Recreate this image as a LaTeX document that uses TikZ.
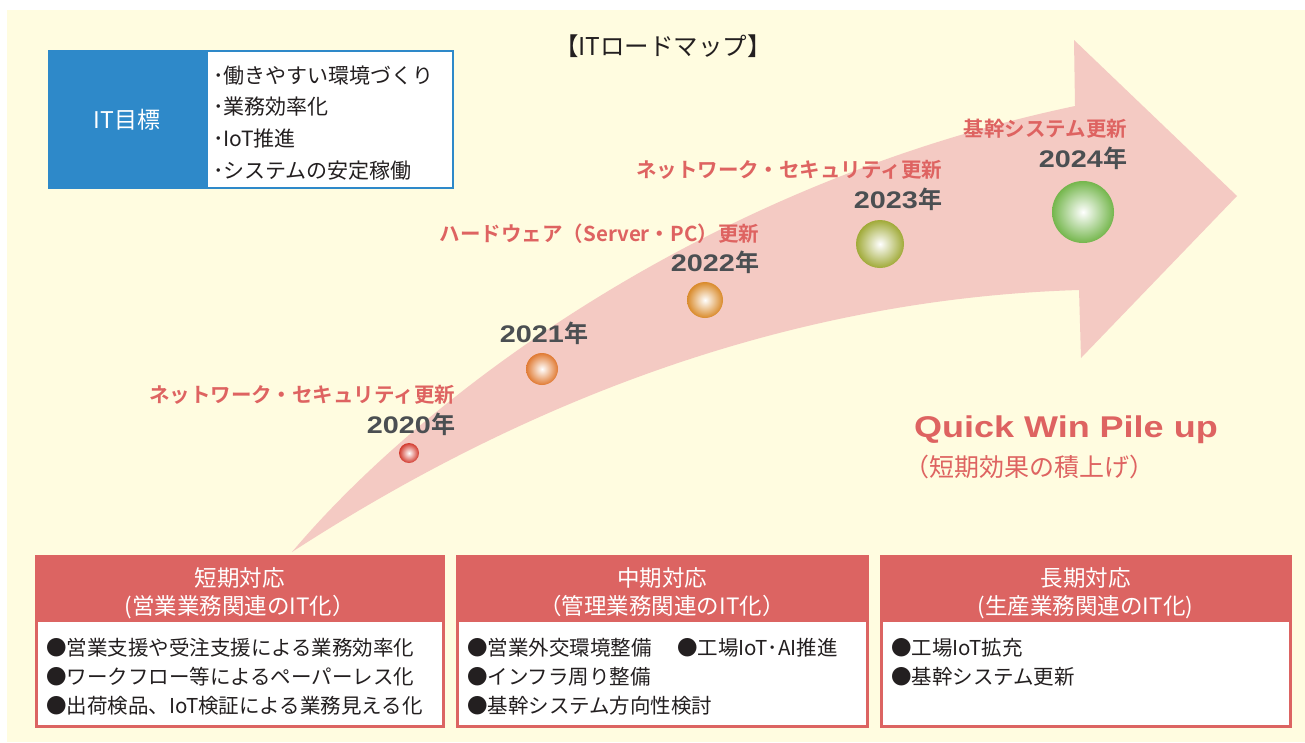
\documentclass[tikz,border=0pt]{standalone}
\usepackage{fontspec}
\setmainfont{Noto Sans CJK JP}[BoldFont={Noto Sans CJK JP Bold}]
\newfontfamily\latb{Liberation Sans}[FakeStretch=1.2]
\newcommand\myfs[1]{\fontsize{#1}{#1}\selectfont}
\definecolor{bgcream}{HTML}{FFFCE0}
\definecolor{arrowpink}{HTML}{F4CAC3}
\definecolor{redtxt}{HTML}{DE6361}
\definecolor{boxred}{HTML}{DC6462}
\definecolor{itblue}{HTML}{2E89C9}
\definecolor{yeartxt}{HTML}{4B4F52}
\definecolor{itemtxt}{HTML}{231F20}
\definecolor{sred}{HTML}{D23A2E}
\definecolor{sorange}{HTML}{E07A32}
\definecolor{sorange2}{HTML}{D98A2A}
\definecolor{solive}{HTML}{A0AA38}
\definecolor{sgreen}{HTML}{74B64C}
\begin{document}
\begin{tikzpicture}[x=1pt,y=-1pt,
  every node/.style={inner sep=0pt, outer sep=0pt},
  goalitem/.style={anchor=base west, font=\myfs{21}, text=itemtxt},
  redlab/.style={anchor=base east, font=\myfs{20.5}\bfseries, text=redtxt},
  yearlab/.style={anchor=base east, font=\myfs{24}\bfseries, text=yeartxt},
  hdr/.style={anchor=base, font=\myfs{22.5}, text=white},
  bitem/.style={anchor=base west, font=\myfs{20.5}, text=itemtxt},
  ball/.style={circle, shading=radial, inner color=white}]
\useasboundingbox (0,0) rectangle (1305,742);
% background
\fill[bgcream] (7,10) rectangle (1305,742);
% big arrow
\fill[arrowpink] (292,552) .. controls (420,400) and (700,185) .. (1075,106)
  -- (1074,40) -- (1237,196) -- (1081,358) -- (1079,290)
  .. controls (750,300) and (480,430) .. (292,552) -- cycle;
% title
\node (title) [anchor=base, font=\myfs{24.5}, text=itemtxt] at (663,55) {【ITロードマップ】};
% IT goal box
\fill[itblue] (48,50) rectangle (207,189);
\draw[itblue, line width=2pt, fill=white] (207,51) rectangle (453,188);
\node (goal) [font=\myfs{23}, text=white] at (127,120) {IT目標};
\node (g1) [goalitem] at (213,83) {･働きやすい環境づくり};
\node (g2) [goalitem] at (213,114) {･業務効率化};
\node (g3) [goalitem] at (213,146) {･IoT推進};
\node (g4) [goalitem] at (213,178) {･システムの安定稼働};
% milestones
\node (l20) [redlab] at (455,402) {ネットワーク・セキュリティ更新};
\node (y20) [yearlab] at (455,433) {{\latb\bfseries 2020}年};
\node (s20) [ball, minimum size=20pt, outer color=sred] at (409,453) {};
\node (y21) [yearlab] at (588,342) {{\latb\bfseries 2021}年};
\node (s21) [ball, minimum size=32pt, outer color=sorange] at (542,369) {};
\node (l22) [redlab] at (759,241) {ハードウェア（Server・PC）更新};
\node (y22) [yearlab] at (759,271) {{\latb\bfseries 2022}年};
\node (s22) [ball, minimum size=36pt, outer color=sorange2] at (705,300) {};
\node (l23) [redlab] at (942,177) {ネットワーク・セキュリティ更新};
\node (y23) [yearlab] at (942,208) {{\latb\bfseries 2023}年};
\node (s23) [ball, minimum size=48pt, outer color=solive] at (880,244) {};
\node (l24) [redlab] at (1127,136) {基幹システム更新};
\node (y24) [yearlab] at (1127,167) {{\latb\bfseries 2024}年};
\node (s24) [ball, minimum size=62pt, outer color=sgreen] at (1083,212) {};
% quick win
\node (qw) [anchor=base west, font=\myfs{30}\latb\bfseries, text=redtxt] at (914,437) {Quick Win Pile up};
\node (qwj) [anchor=base west, font=\myfs{25}, text=redtxt] at (904,476) {（短期効果の積上げ）};
% bottom boxes
\draw[boxred, line width=3pt, fill=white] (36,556) rectangle (443,726);
\fill[boxred] (36,556) rectangle (443,622);
\draw[boxred, line width=3pt, fill=white] (457,556) rectangle (867,726);
\fill[boxred] (457,556) rectangle (867,622);
\draw[boxred, line width=3pt, fill=white] (881,556) rectangle (1290,726);
\fill[boxred] (881,556) rectangle (1290,622);
% box 1
\node (h1a) [hdr] at (239.5,586) {短期対応};
\node (h1b) [hdr] at (239.5,614) {(営業業務関連のIT化）};
\node (b1a) [bitem] at (46,655) {●営業支援や受注支援による業務効率化};
\node (b1b) [bitem] at (46,684) {●ワークフロー等によるペーパーレス化};
\node (b1c) [bitem] at (46,713) {●出荷検品、IoT検証による業務見える化};
% box 2
\node (h2a) [hdr] at (662,586) {中期対応};
\node (h2b) [hdr] at (662,614) {（管理業務関連のIT化）};
\node (b2a) [bitem] at (467,655) {●営業外交環境整備};
\node (b2b) [bitem] at (677,655) {●工場IoT･AI推進};
\node (b2c) [bitem] at (467,684) {●インフラ周り整備};
\node (b2d) [bitem] at (467,713) {●基幹システム方向性検討};
% box 3
\node (h3a) [hdr] at (1085.5,586) {長期対応};
\node (h3b) [hdr] at (1085.5,614) {(生産業務関連のIT化)};
\node (b3a) [bitem] at (891,655) {●工場IoT拡充};
\node (b3b) [bitem] at (891,684) {●基幹システム更新};
\end{tikzpicture}
\end{document}
